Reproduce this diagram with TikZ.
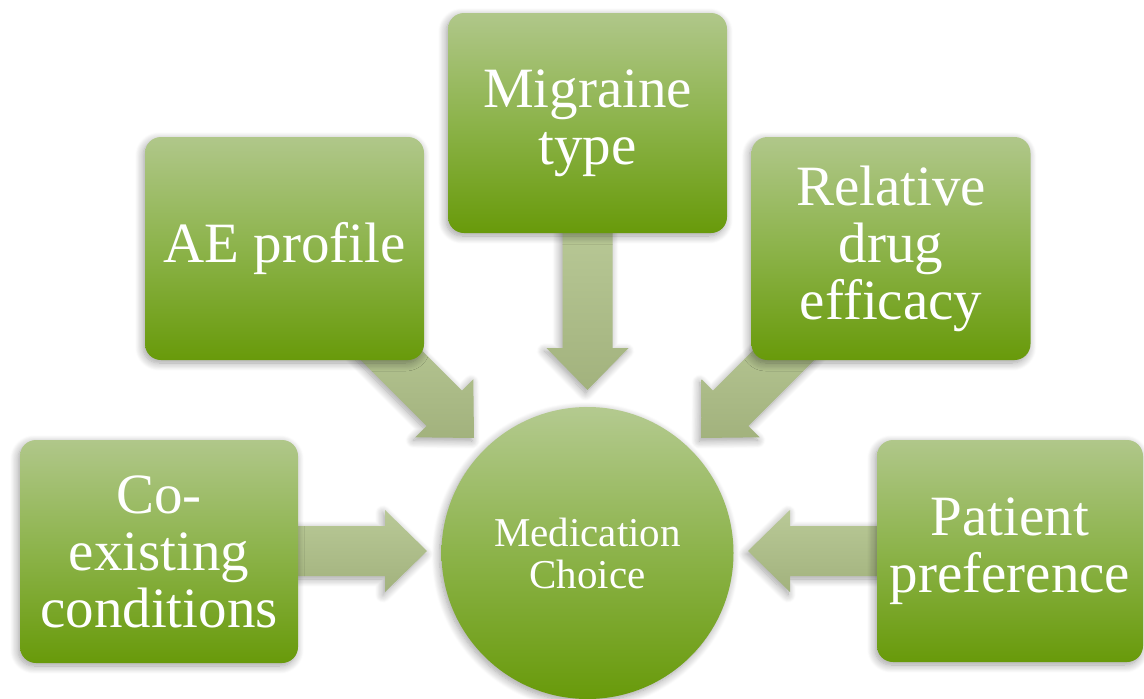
\documentclass[tikz,border=0pt]{standalone}
\usepackage{fontspec}
\setmainfont{Liberation Serif}
\usetikzlibrary{calc,shadows.blur}

\definecolor{boxtop}{HTML}{B0C78A}
\definecolor{boxmid}{HTML}{8CB34A}
\definecolor{boxbot}{HTML}{689A0A}
\definecolor{arrtop}{HTML}{B9C997}
\definecolor{arrbot}{HTML}{A2B27D}

\tikzset{
  softshadow/.style={blur shadow={shadow xshift=-2pt, shadow yshift=-3pt,
      shadow blur radius=8pt, shadow blur steps=10, shadow opacity=38}},
  factor/.style={rectangle, rounded corners=16pt, minimum width=279pt,
      minimum height=222pt, inner sep=0pt, align=center, text=white,
      top color=boxtop, bottom color=boxbot, middle color=boxmid,
      font=\fontsize{57}{57}\selectfont, softshadow},
  hub/.style={circle, minimum size=292pt, inner sep=0pt, align=center,
      text=white, top color=boxtop!95!white, bottom color=boxbot,
      middle color=boxmid, font=\fontsize{41}{42}\selectfont, softshadow},
  pics/blockarrow/.style={code={
      \path[top color=arrtop, bottom color=arrbot, softshadow]
        (0,0) -- (-42,-41) -- (-42,-25) -- (-#1,-25) -- (-#1,25)
        -- (-42,25) -- (-42,41) -- cycle;
  }},
}

\begin{document}
\begin{tikzpicture}[x=1pt, y=-1pt]
  \useasboundingbox (0,0) rectangle (1144,699);

  % centre of the diagram
  \node[hub] (med) at (587.5,553) {Medication\\Choice};

  % arrow tips around the centre
  \coordinate (tipT)  at (587.5,390);
  \coordinate (tipUL) at (474,438);
  \coordinate (tipUR) at (701,438);
  \coordinate (tipL)  at (427,551);
  \coordinate (tipR)  at (748,551);

  % block arrows, drawn first so the boxes cover their tails
  \pic[rotate=-90]  at (tipT)  {blockarrow=170};
  \pic[rotate=-45]  at (tipUL) {blockarrow=150};
  \pic[rotate=-135] at (tipUR) {blockarrow=150};
  \pic              at (tipL)  {blockarrow=140};
  \pic[rotate=180]  at (tipR)  {blockarrow=140};

  % the five factors
  \node[factor, minimum height=220pt] (mig) at (587.5,123) {Migraine\\type};
  \node[factor, minimum height=223pt] (ae)  at (284.5,248.5) {AE profile};
  \node[factor, minimum height=223pt] (rel) at (891,248.5) {Relative\\drug\\efficacy};
  \node[factor, minimum width=278pt, minimum height=223pt] (coex) at (159,551.5)
       {Co-\\existing\\conditions};
  \node[factor, minimum width=266pt, minimum height=222pt] (pat) at (1010,551)
       {Patient\\preference};
\end{tikzpicture}
\end{document}
